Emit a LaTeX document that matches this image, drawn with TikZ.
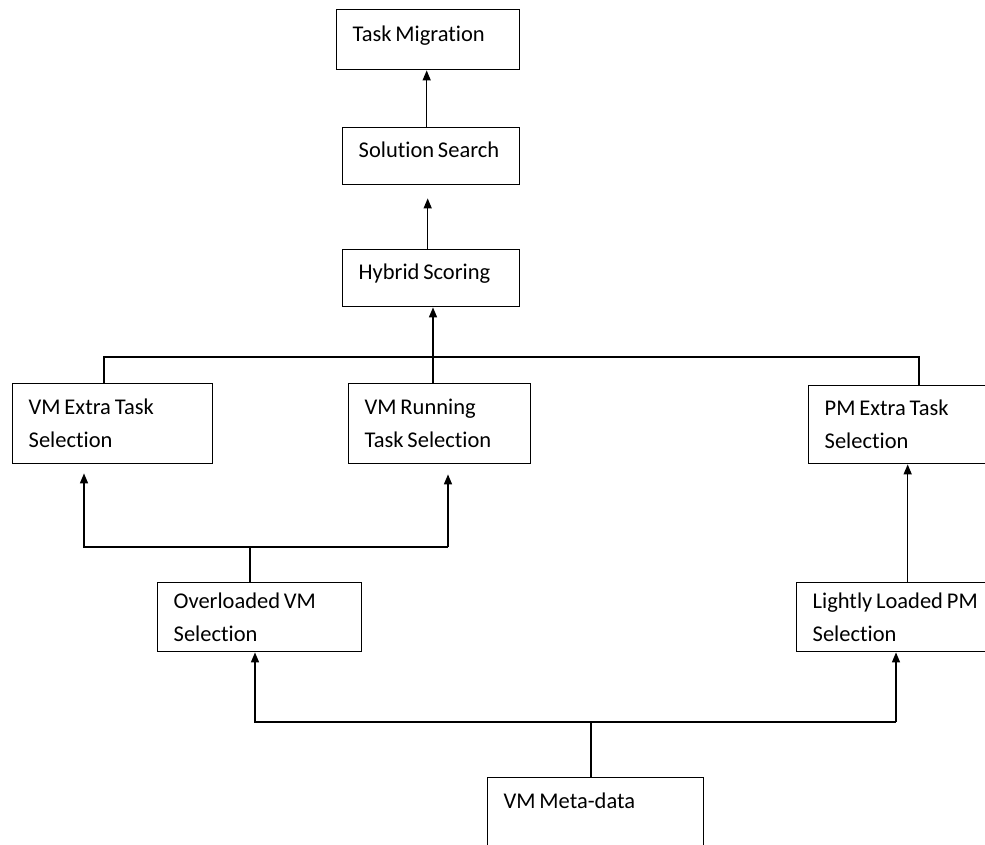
\documentclass[tikz,border=0pt]{standalone}
\usepackage{fontspec}
\setmainfont{Carlito}[Ligatures={NoCommon,NoRare}]
\usetikzlibrary{arrows.meta}

\begin{document}
\begin{tikzpicture}[
    x=0.02cm, y=-0.02cm,
    box/.style={draw, line width=0.8pt, anchor=north west, align=left, inner xsep=0.32cm, inner ysep=0pt,
                font=\fontsize{12.8pt}{18.8pt}\selectfont, execute at begin node={\spaceskip=0.17em plus 0.05em\relax}},
    oneline/.style={text depth=0.25cm},
    arr/.style={-{Triangle[length=0.2cm, width=0.16cm]}, line width=0.8pt},
    wire/.style={line width=0.8pt},
]

\path[use as bounding box, clip] (0,0) rectangle (985,845);

\node[box, oneline, text width=3.02cm, minimum height=1.2cm]  (mig)  at (336,  9) {Task Migration};
\node[box, oneline, text width=2.90cm, minimum height=1.14cm] (sol)  at (342,127) {Solution Search};
\node[box, oneline, text width=2.90cm, minimum height=1.14cm] (hyb)  at (342,249) {Hybrid Scoring};
\node[box, text width=3.36cm, minimum height=1.6cm]  (vmx)  at ( 12,383) {VM Extra Task\\Selection};
\node[box, text width=3.00cm, minimum height=1.6cm]  (vmr)  at (348,383) {VM Running\\Task Selection};
\node[box, text width=3.20cm, minimum height=1.56cm] (pmx)  at (808,385) {PM Extra Task\\Selection};
\node[box, text width=3.44cm, minimum height=1.38cm] (ovl)  at (157,582) {Overloaded VM\\Selection};
\node[box, text width=3.44cm, minimum height=1.38cm] (lgt)  at (796,582) {Lightly Loaded PM\\Selection};
\node[box, text depth=1.1cm, text width=3.68cm, minimum height=2cm] (meta) at (487,777) {VM Meta-data};

% bus lines
\coordinate (bus1-l) at (104,357);
\coordinate (bus1-m) at (433,357);
\coordinate (bus1-r) at (919,357);
\coordinate (bus2-l) at ( 84,547);
\coordinate (bus2-m) at (250,547);
\coordinate (bus2-r) at (448,547);
\coordinate (bus3-l) at (255,722);
\coordinate (bus3-m) at (591,722);
\coordinate (bus3-r) at (896,722);

% Solution Search -> Task Migration, Hybrid Scoring -> Solution Search
\draw[arr] ([xshift=-0.09cm]sol.north) -- ([xshift=-0.09cm]sol.north |- mig.south);
\draw[arr, shorten >=0.26cm] ([xshift=-0.07cm]hyb.north) -- ([xshift=-0.07cm]hyb.north |- sol.south);

% selections -> Hybrid Scoring
\draw[wire] (bus1-l |- vmx.north) -- (bus1-l) -- (bus1-r) -- (bus1-r |- pmx.north);
\draw[wire] (bus1-m |- vmr.north) -- (bus1-m);
\draw[arr] (bus1-m) -- (bus1-m |- hyb.south);

% Overloaded VM -> VM task selections
\draw[wire] (ovl.north -| bus2-m) -- (bus2-m);
\draw[arr, shorten >=0.18cm] (bus2-r) -- (bus2-l) -- (bus2-l |- vmx.south);
\draw[arr, shorten >=0.2cm] (bus2-r) -- (bus2-r |- vmr.south);

% Lightly Loaded PM -> PM Extra Task
\draw[arr] ([xshift=0.18cm]lgt.north) -- ([xshift=0.18cm]lgt.north |- pmx.south);

% VM Meta-data -> VM / PM selection
\draw[wire] (meta.north -| bus3-m) -- (bus3-m);
\draw[arr] (bus3-r) -- (bus3-l) -- (bus3-l |- ovl.south);
\draw[arr] (bus3-r) -- (bus3-r |- lgt.south);

\end{tikzpicture}
\end{document}
